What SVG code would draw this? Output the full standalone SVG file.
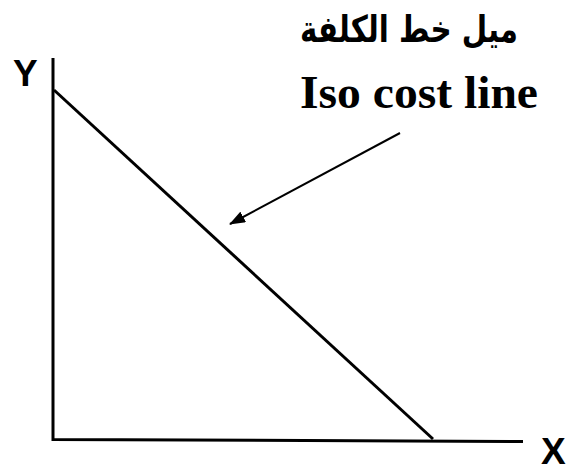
<svg xmlns="http://www.w3.org/2000/svg" width="568" height="471" viewBox="0 0 568 471">
<style>
.ax{stroke:#000;stroke-width:3;fill:none}
.lbl{font-family:"Liberation Sans",Arial,sans-serif;font-weight:bold;fill:#000}
.ttl{font-family:"Liberation Serif","Times New Roman",serif;font-weight:bold;fill:#000}
.ar{font-family:"DejaVu Sans","Noto Sans",sans-serif;font-weight:bold;fill:#000}
</style>
<defs>
<marker id="ah" markerWidth="16" markerHeight="12" refX="15" refY="6" orient="auto" markerUnits="userSpaceOnUse">
<path d="M0,0 L16,6 L0,12 Z" fill="#000"/>
</marker>
</defs>
<rect width="568" height="471" fill="#fff"/>
<g id="axes">
<path class="ax" d="M53,58 V439.5 L523,441.5"/>
</g>
<g id="labels">
<text class="lbl" x="13" y="86" font-size="37">Y</text>
<text class="lbl" x="541" y="464" font-size="37">X</text>
</g>
<g id="isocost">
<line class="ax" x1="54" y1="90" x2="433" y2="439"/>
</g>
<g id="title">
<text class="ar" x="518" y="42" font-size="37" direction="rtl" text-anchor="start" textLength="218" lengthAdjust="spacingAndGlyphs">ميل خط الكلفة</text>
<text class="ttl" x="300" y="108" font-size="47" textLength="238" lengthAdjust="spacingAndGlyphs">Iso cost line</text>
</g>
<g id="connectors">
<line x1="400" y1="133" x2="230" y2="224" stroke="#000" stroke-width="2" marker-end="url(#ah)"/>
</g>
</svg>
